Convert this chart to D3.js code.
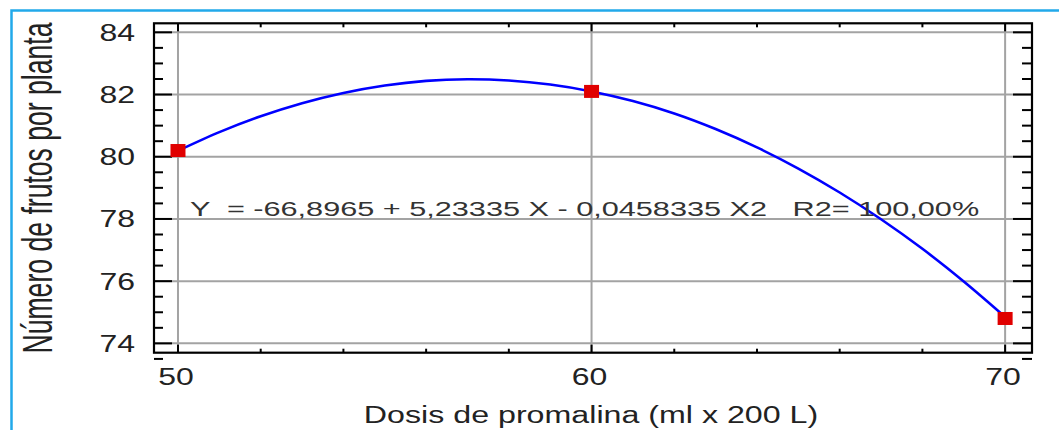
<!DOCTYPE html>
<html>
<head>
<meta charset="utf-8">
<script src="https://cdn.jsdelivr.net/npm/d3@7"></script>
<style>
  body { margin: 0; background: white; }
  text { font-family: "Liberation Sans", Arial, sans-serif; fill: #222; white-space: pre; }
</style>
</head>
<body>
<div id="chart"></div>
<script>
let W = 1059
let H = 430

// observed points
let doses = [50, 60, 70]
let frutos = [80.2, 82.1, 74.8]

// fitted curve at each dose unit
let curveX = [50, 51, 52, 53, 54, 55, 56, 57, 58, 59, 60, 61, 62, 63, 64, 65, 66, 67, 68, 69, 70]
let curveY = [80.19, 80.79, 81.30, 81.72, 82.05, 82.29, 82.44, 82.49, 82.45, 82.32, 82.10,
              81.79, 81.39, 80.89, 80.30, 79.62, 78.85, 77.99, 77.04, 75.99, 74.85]

let xTicks = [50, 60, 70]
let xMinor = [52, 54, 56, 58, 62, 64, 66, 68]
let yTicks = [74, 76, 78, 80, 82, 84]
let yMinor = [73.5, 74.5, 75, 75.5, 76.5, 77, 77.5, 78.5, 79, 79.5, 80.5, 81, 81.5, 82.5, 83, 83.5]

let equation = "Y  = -66,8965 + 5,23335 X - 0,0458335 X2   R2= 100,00%"
let xTitle = "Dosis de promalina (ml x 200 L)"
let yTitle = "Número de frutos por planta"

let svg = d3.select("#chart").append("svg")
    .attr("width", W)
    .attr("height", H)
    .style("display", "block")

// escalas: el marco va de 49.42 a 70.65 en x
let x = d3.scaleLinear().domain([49.42, 70.65]).range([154, 1032])
let y = d3.scaleLinear().domain([73.70, 84.29]).range([352.7, 23.3])

// marco celeste exterior
svg.append("path")
    .attr("d", `M${W + 5},10.5 H11.5 V${H + 5}`)
    .attr("fill", "none")
    .attr("stroke", "#22a9ea")
    .attr("stroke-width", 2.5)

// grilla
let grid = svg.append("g").attr("stroke", "#a3a3a3").attr("stroke-width", 2)
grid.selectAll("line.v").data(xTicks).join("line")
    .attr("x1", d => x(d)).attr("x2", d => x(d))
    .attr("y1", y.range()[0]).attr("y2", y.range()[1])
grid.selectAll("line.h").data(yTicks).join("line")
    .attr("y1", d => y(d)).attr("y2", d => y(d))
    .attr("x1", x.range()[0]).attr("x2", x.range()[1])

// ejes (ticks hacia adentro)
let axes = svg.append("g").attr("stroke", "#000").attr("stroke-width", 2)
// izquierda / derecha
axes.selectAll("line.yl").data(yTicks).join("line")
    .attr("x1", x.range()[0]).attr("x2", x.range()[0] + 18)
    .attr("y1", d => y(d)).attr("y2", d => y(d))
axes.selectAll("line.ylm").data(yMinor).join("line")
    .attr("x1", x.range()[0]).attr("x2", x.range()[0] + 9)
    .attr("y1", d => y(d)).attr("y2", d => y(d))
axes.selectAll("line.yr").data(yTicks).join("line")
    .attr("x1", x.range()[1]).attr("x2", x.range()[1] - 19)
    .attr("y1", d => y(d)).attr("y2", d => y(d))
axes.selectAll("line.yrm").data(yMinor).join("line")
    .attr("x1", x.range()[1]).attr("x2", x.range()[1] - 10)
    .attr("y1", d => y(d)).attr("y2", d => y(d))
// abajo / arriba
axes.selectAll("line.xb").data(xTicks).join("line")
    .attr("y1", y.range()[0]).attr("y2", y.range()[0] - 8)
    .attr("x1", d => x(d)).attr("x2", d => x(d))
axes.selectAll("line.xbm").data(xMinor).join("line")
    .attr("y1", y.range()[0]).attr("y2", y.range()[0] - 4)
    .attr("x1", d => x(d)).attr("x2", d => x(d))
axes.selectAll("line.xt").data(xTicks).join("line")
    .attr("y1", y.range()[1]).attr("y2", y.range()[1] + 8)
    .attr("x1", d => x(d)).attr("x2", d => x(d))
axes.selectAll("line.xtm").data(xMinor).join("line")
    .attr("y1", y.range()[1]).attr("y2", y.range()[1] + 4)
    .attr("x1", d => x(d)).attr("x2", d => x(d))

svg.append("rect")
    .attr("x", x.range()[0]).attr("y", y.range()[1])
    .attr("width", x.range()[1] - x.range()[0])
    .attr("height", y.range()[0] - y.range()[1])
    .attr("fill", "none").attr("stroke", "#000").attr("stroke-width", 2.2)

// texto estirado horizontalmente como en la imagen
function stretched(sel, px, py, sx, size, anchor, str) {
    return sel.append("text")
        .attr("transform", `translate(${px},${py}) scale(${sx},1)`)
        .attr("font-size", size)
        .attr("text-anchor", anchor)
        .text(str)
}

let labels = svg.append("g")
yTicks.forEach(d => stretched(labels, 135, y(d) + 8.4, 1.39, 23, "end", d))
xTicks.forEach(d => stretched(labels, x(d) - 2, 385, 1.39, 23, "middle", d))
stretched(labels, (x.range()[0] + x.range()[1]) / 2 - 2, 423, 1.40, 23, "middle", xTitle)

svg.append("text")
    .attr("transform", "translate(52,188) rotate(-90) scale(1,1.6)")
    .attr("font-size", 26.6)
    .attr("text-anchor", "middle")
    .text(yTitle)

// curva ajustada
let line = d3.line()
    .x(d => x(d[0]))
    .y(d => y(d[1]))
    .curve(d3.curveCatmullRom)

svg.append("path")
    .datum(d3.zip(curveX, curveY))
    .attr("d", line)
    .attr("fill", "none")
    .attr("stroke", "#0000ff")
    .attr("stroke-width", 2.6)

// puntos
svg.selectAll("rect.pt").data(d3.zip(doses, frutos)).join("rect")
    .attr("x", d => x(d[0]) - 7.5)
    .attr("y", d => y(d[1]) - 6.5)
    .attr("width", 15)
    .attr("height", 13)
    .attr("fill", "#e00000")

// ecuación (encima de la curva)
stretched(svg, x(50.29), y(78.09), 1.46, 21, "start", equation)
    .attr("xml:space", "preserve")
    .style("fill", "#333")
</script>
</body>
</html>
